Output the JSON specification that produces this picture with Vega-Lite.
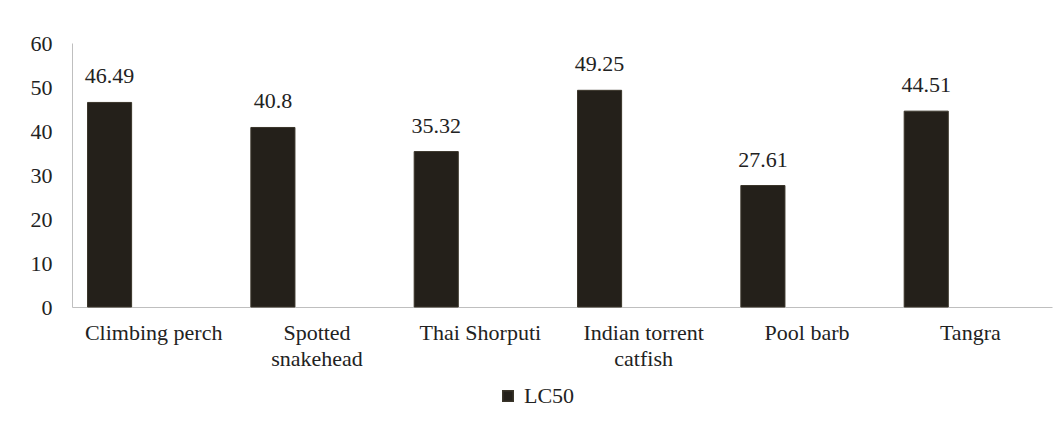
{
  "$schema": "https://vega.github.io/schema/vega-lite/v6.json",
  "width": 980,
  "height": 264,
  "autosize": {"type": "none"},
  "padding": {"left": 72, "top": 43, "right": 10, "bottom": 123},
  "background": "white",
  "data": {
    "values": [
      {"species": "Climbing perch", "series": "LC50", "value": 46.49, "label": "46.49"},
      {"species": "Spotted snakehead", "series": "LC50", "value": 40.8, "label": "40.8"},
      {"species": "Thai Shorputi", "series": "LC50", "value": 35.32, "label": "35.32"},
      {"species": "Indian torrent catfish", "series": "LC50", "value": 49.25, "label": "49.25"},
      {"species": "Pool barb", "series": "LC50", "value": 27.61, "label": "27.61"},
      {"species": "Tangra", "series": "LC50", "value": 44.51, "label": "44.51"}
    ]
  },
  "encoding": {
    "x": {
      "field": "species",
      "type": "nominal",
      "sort": null,
      "scale": {"paddingInner": 0.19, "paddingOuter": 0.095},
      "axis": {
        "title": null,
        "labelAngle": 0,
        "ticks": false,
        "domainColor": "#bfbfbf",
        "labelFont": "Liberation Serif",
        "labelFontSize": 22,
        "labelColor": "#222222",
        "labelPadding": 15,
        "labelLineHeight": 26,
        "labelBaseline": "top",
        "labelExpr": "datum.value == 'Spotted snakehead' ? ['Spotted', 'snakehead'] : datum.value == 'Indian torrent catfish' ? ['Indian torrent', 'catfish'] : datum.value"
      }
    },
    "xOffset": {
      "field": "series",
      "type": "nominal",
      "scale": {"domain": ["LC50", "_b", "_c"], "paddingInner": 0, "paddingOuter": 0}
    },
    "y": {
      "field": "value",
      "type": "quantitative",
      "scale": {"domain": [0, 60]},
      "axis": {
        "title": null,
        "grid": false,
        "ticks": false,
        "values": [0, 10, 20, 30, 40, 50, 60],
        "domainColor": "#bfbfbf",
        "labelFont": "Liberation Serif",
        "labelFontSize": 22,
        "labelColor": "#222222",
        "labelPadding": 20
      }
    }
  },
  "layer": [
    {
      "mark": {"type": "bar", "stroke": "#3a352a", "strokeWidth": 1},
      "encoding": {
        "color": {
          "field": "series",
          "type": "nominal",
          "scale": {"domain": ["LC50"], "range": ["#24201a"]},
          "legend": {
            "title": null,
            "orient": "none",
            "legendX": 425,
            "legendY": 342,
            "symbolType": "square",
            "symbolSize": 110,
            "labelFont": "Liberation Serif",
            "labelFontSize": 22,
            "labelColor": "#222222",
            "labelOffset": 5
          }
        }
      }
    },
    {
      "mark": {"type": "text", "dy": -14, "baseline": "bottom", "font": "Liberation Serif", "fontSize": 22, "color": "#222222"},
      "encoding": {
        "text": {"field": "label", "type": "nominal"}
      }
    }
  ],
  "config": {
    "view": {"stroke": null}
  }
}
